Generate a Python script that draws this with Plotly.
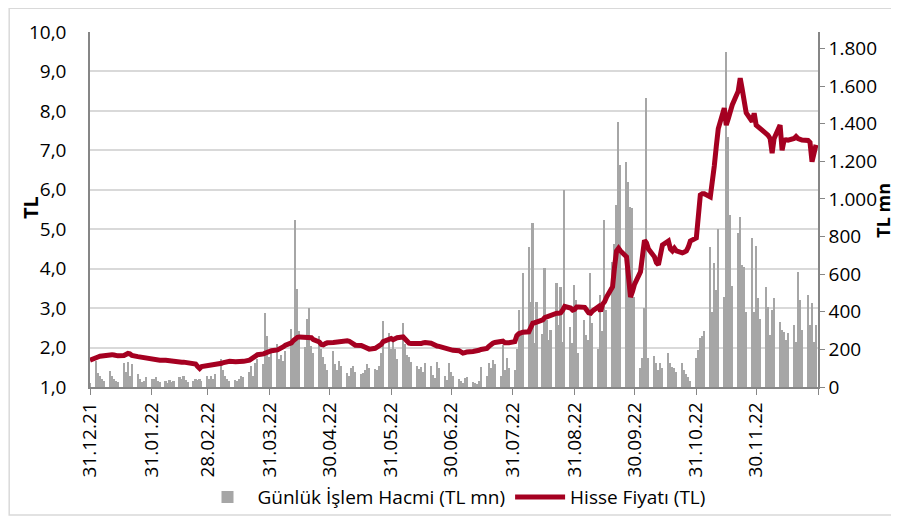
import pandas as pd
import plotly.graph_objects as go

# ---------------- data ----------------
start_date = ["2021-12-31"]
vol_start = [20]
price_start = [1.68]

vol_jan = [140, 75, 60, 40, 30, 85, 60, 45, 30, 25, 130, 80, 135, 60, 125, 70, 40, 25, 30, 55, 45]
vol_feb = [40, 55, 30, 25, 30, 20, 35, 25, 30, 55, 40, 60, 35, 25, 30, 45, 35, 40, 30, 60]
vol_mar = [45, 60, 40, 70, 150, 90, 60, 40, 30, 35, 30, 40, 60, 55, 80, 110, 60, 130, 150, 120, 395, 270, 160]
vol_apr = [200, 230, 150, 170, 140, 190, 310, 250, 888, 520, 300, 215, 360, 418, 220, 180, 270, 200, 160, 120, 90]
vol_may = [190, 120, 90, 140, 110, 75, 60, 100, 110, 80, 70, 75, 90, 120, 100, 95, 90, 110, 180, 350, 285, 200]
vol_jun = [250, 200, 150, 340, 230, 170, 160, 135, 110, 95, 108, 80, 126, 110, 64, 50, 135, 100, 60, 37, 126, 80]
vol_jul = [60, 40, 30, 20, 46, 55, 25, 20, 15, 30, 108, 60, 126, 100, 144, 120, 60, 223, 90, 152, 100]
vol_aug = [90, 200, 410, 300, 605, 746, 450, 870, 232, 454, 280, 631, 356, 250, 303, 551, 330, 534, 241, 1048, 321, 232, 543]
vol_sep = [463, 180, 356, 277, 250, 608, 339, 200, 490, 300, 888, 410, 667, 760, 968, 1411, 1181, 1199, 1092, 959, 950, 480]
vol_oct = [100, 152, 418, 1535, 152, 165, 130, 90, 126, 100, 179, 130, 108, 100, 80, 126, 90, 70, 55, 30, 152]
vol_nov = [197, 259, 270, 300, 746, 400, 658, 516, 839, 480, 1784, 1331, 915, 537, 817, 902, 649, 640, 400, 791, 400, 750]
vol_dec = [472, 360, 530, 427, 277, 410, 472, 347, 303, 294, 250, 289, 330, 241, 613, 463, 303, 489, 330, 445, 241, 330]

price_jan = [1.72, 1.76, 1.78, 1.79, 1.80, 1.81, 1.82, 1.81, 1.79, 1.79, 1.80, 1.83, 1.85, 1.84, 1.80, 1.77, 1.76, 1.75, 1.74, 1.73, 1.72]
price_feb = [1.71, 1.70, 1.69, 1.68, 1.68, 1.67, 1.66, 1.65, 1.64, 1.64, 1.63, 1.63, 1.62, 1.62, 1.61, 1.58, 1.52, 1.47, 1.52, 1.54]
price_mar = [1.54, 1.55, 1.56, 1.58, 1.60, 1.62, 1.64, 1.66, 1.65, 1.64, 1.64, 1.63, 1.64, 1.65, 1.68, 1.72, 1.77, 1.79, 1.82, 1.84, 1.86, 1.88, 1.92]
price_apr = [1.92, 1.94, 1.96, 1.98, 2.02, 2.06, 2.12, 2.18, 2.24, 2.26, 2.27, 2.27, 2.26, 2.27, 2.25, 2.20, 2.14, 2.08, 2.07, 2.10, 2.12]
price_may = [2.13, 2.14, 2.15, 2.16, 2.17, 2.17, 2.16, 2.12, 2.08, 2.06, 2.05, 2.03, 2.00, 1.97, 1.96, 1.98, 2.01, 2.02, 2.08, 2.15, 2.22, 2.23]
price_jun = [2.20, 2.22, 2.25, 2.27, 2.20, 2.13, 2.11, 2.10, 2.09, 2.09, 2.10, 2.12, 2.13, 2.11, 2.08, 2.05, 2.04, 2.03, 1.98, 1.95, 1.94, 1.93]
price_jul = [1.93, 1.92, 1.89, 1.86, 1.87, 1.89, 1.90, 1.90, 1.91, 1.93, 1.95, 1.98, 2.03, 2.09, 2.11, 2.13, 2.15, 2.16, 2.12, 2.11, 2.12]
price_aug = [2.15, 2.30, 2.35, 2.37, 2.39, 2.40, 2.55, 2.62, 2.63, 2.65, 2.70, 2.76, 2.78, 2.80, 2.84, 2.87, 2.87, 2.88, 2.95, 3.04, 3.00, 2.95, 2.97]
price_sep = [3.03, 3.03, 3.02, 2.95, 2.88, 2.87, 2.93, 3.04, 2.92, 3.10, 3.16, 3.28, 3.54, 4.05, 4.45, 4.52, 4.45, 4.30, 3.75, 3.28, 3.42, 3.60]
price_oct = [3.92, 4.30, 4.72, 4.65, 4.50, 4.30, 4.15, 4.10, 4.40, 4.60, 4.70, 4.50, 4.45, 4.52, 4.45, 4.40, 4.42, 4.45, 4.55, 4.70, 4.78]
price_nov = [5.50, 5.87, 5.90, 5.90, 5.82, 6.15, 6.60, 7.10, 7.55, 8.07, 7.64, 7.80, 7.95, 8.15, 8.50, 8.83, 8.55, 8.25, 7.95, 7.73, 7.94, 7.64]
price_dec = [7.60, 7.55, 7.45, 7.38, 7.30, 6.93, 7.30, 7.64, 7.00, 7.26, 7.27, 7.26, 7.30, 7.35, 7.30, 7.28, 7.26, 7.25, 7.20, 6.71, 6.95, 7.14]

tick_dates = ["2021-12-31", "2022-01-31", "2022-02-28", "2022-03-31", "2022-04-30", "2022-05-31",
              "2022-06-30", "2022-07-31", "2022-08-31", "2022-09-30", "2022-10-31", "2022-11-30", "2022-12-31"]
tick_labels = ["31.12.21", "31.01.22", "28.02.22", "31.03.22", "30.04.22", "31.05.22",
               "30.06.22", "31.07.22", "31.08.22", "30.09.22", "31.10.22", "30.11.22", ""]

# ---------------- assemble ----------------
trade_days = list(pd.to_datetime(start_date)) + list(pd.bdate_range("2022-01-03", "2022-12-30"))
volume = (vol_start + vol_jan + vol_feb + vol_mar + vol_apr + vol_may + vol_jun +
          vol_jul + vol_aug + vol_sep + vol_oct + vol_nov + vol_dec)
price = (price_start + price_jan + price_feb + price_mar + price_apr + price_may + price_jun +
         price_jul + price_aug + price_sep + price_oct + price_nov + price_dec)
assert len(trade_days) == len(volume) == len(price), (len(trade_days), len(volume), len(price))

FONT = "Open Sans"
AXC = "#868686"
TFS = 19

fig = go.Figure()
fig.add_trace(go.Bar(
    x=trade_days, y=volume, name="Günlük İşlem Hacmi (TL mn)",
    marker=dict(color="#a6a6a6", line=dict(width=0)),
    width=0.8 * 86400000, yaxis="y",
))
fig.add_trace(go.Scatter(
    x=trade_days, y=price, name="Hisse Fiyatı (TL)", mode="lines",
    line=dict(color="#a50021", width=5), yaxis="y2",
))

# the page body has an 8px margin, so the figure is 8px smaller than the window
fig.update_layout(
    width=891, height=515,
    margin=dict(l=82, r=81, t=24, b=136, autoexpand=False),
    paper_bgcolor="white", plot_bgcolor="white",
    separators=",.",
    font=dict(family=FONT, size=TFS, color="#000000"),
    bargap=0,
    showlegend=True,
    legend=dict(orientation="h", x=0.50, xanchor="center", y=-0.31, yanchor="middle",
                font=dict(family=FONT, size=TFS), traceorder="normal",
                itemwidth=50, bgcolor="rgba(0,0,0,0)"),
    xaxis=dict(
        type="date", range=["2021-12-31", "2022-12-31"], automargin=False,
        tickvals=tick_dates, ticktext=tick_labels, tickangle=-90,
        ticks="outside", ticklen=6, tickcolor=AXC, showline=True, linecolor=AXC, linewidth=1.5,
        showgrid=False, tickfont=dict(family=FONT, size=TFS),
    ),
    yaxis=dict(
        side="right", range=[0, 1888], tickvals=list(range(0, 1801, 200)), tickformat=",d",
        automargin=False,
        showgrid=False, zeroline=False, showline=True, linecolor=AXC, linewidth=1.5,
        ticks="outside", ticklen=5, tickcolor=AXC, tickfont=dict(family=FONT, size=TFS),
    ),
    yaxis2=dict(
        overlaying="y", side="left", range=[1, 10], dtick=1, tickformat=".1f",
        automargin=False,
        showgrid=True, gridcolor="#d9d9d9", gridwidth=1.5, zeroline=False,
        showline=True, linecolor=AXC, linewidth=1.5,
        ticks="", tickfont=dict(family=FONT, size=TFS), ticklabelstandoff=18,
    ),
    annotations=[
        dict(text="<b>TL</b>", x=-0.0824, y=0.504, xref="paper", yref="paper",
             xanchor="center", yanchor="middle",
             textangle=-90, showarrow=False, font=dict(family=FONT, size=20)),
        dict(text="<b>TL mn</b>", x=1.089, y=0.4986, xref="paper", yref="paper",
             xanchor="center", yanchor="middle",
             textangle=-90, showarrow=False, font=dict(family=FONT, size=18)),
    ],
    shapes=[
        dict(type="rect", xref="paper", yref="paper", x0=-0.111, x1=1.1058, y0=-0.3606, y1=1.067,
             line=dict(color="#d9d9d9", width=1.5), fillcolor="rgba(0,0,0,0)", layer="below"),
    ],
)

fig.write_html("out.html")
